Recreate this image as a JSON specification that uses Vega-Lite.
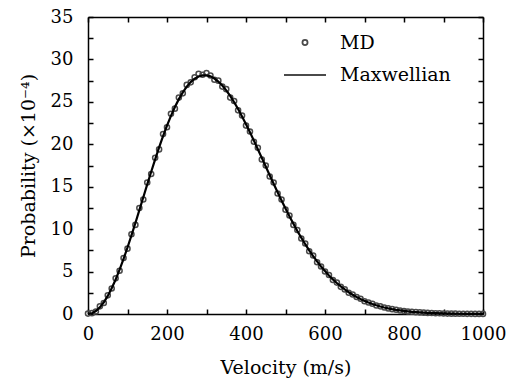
{
  "$schema": "https://vega.github.io/schema/vega-lite/v6.json",
  "width": 395,
  "height": 297,
  "autosize": {"type": "none"},
  "padding": {"left": 88, "top": 17, "right": 23, "bottom": 64},
  "background": "white",
  "config": {
    "font": "DejaVu Serif",
    "view": {"stroke": null},
    "axis": {
      "domainColor": "black",
      "domainWidth": 1.5,
      "tickColor": "black",
      "tickWidth": 1.5,
      "tickSize": -5,
      "grid": false,
      "labelFlush": false,
      "labelFont": "DejaVu Serif",
      "labelFontSize": 18,
      "labelColor": "black",
      "titleFont": "DejaVu Serif",
      "titleFontSize": 19,
      "titleFontWeight": "normal",
      "titleColor": "black"
    }
  },
  "datasets": {
    "md": [
      {"v":0,"p":0.05,"s":"MD"},{"v":10,"p":0.1,"s":"MD"},{"v":20,"p":0.3,"s":"MD"},{"v":30,"p":0.9,"s":"MD"},{"v":40,"p":1.3,"s":"MD"},
      {"v":50,"p":2.2,"s":"MD"},{"v":60,"p":3.0,"s":"MD"},{"v":70,"p":4.2,"s":"MD"},{"v":80,"p":5.1,"s":"MD"},{"v":90,"p":6.6,"s":"MD"},
      {"v":100,"p":7.7,"s":"MD"},{"v":110,"p":9.4,"s":"MD"},{"v":120,"p":10.5,"s":"MD"},{"v":130,"p":12.5,"s":"MD"},{"v":140,"p":13.5,"s":"MD"},
      {"v":150,"p":15.5,"s":"MD"},{"v":160,"p":16.5,"s":"MD"},{"v":170,"p":18.4,"s":"MD"},{"v":180,"p":19.4,"s":"MD"},{"v":190,"p":21.2,"s":"MD"},
      {"v":200,"p":22.0,"s":"MD"},{"v":210,"p":23.6,"s":"MD"},{"v":220,"p":24.2,"s":"MD"},{"v":230,"p":25.5,"s":"MD"},{"v":240,"p":26.0,"s":"MD"},
      {"v":250,"p":27.0,"s":"MD"},{"v":260,"p":27.3,"s":"MD"},{"v":270,"p":27.9,"s":"MD"},{"v":280,"p":28.3,"s":"MD"},{"v":290,"p":28.2,"s":"MD"},
      {"v":300,"p":28.4,"s":"MD"},{"v":310,"p":28.1,"s":"MD"},{"v":320,"p":27.6,"s":"MD"},{"v":330,"p":27.5,"s":"MD"},{"v":340,"p":26.8,"s":"MD"},
      {"v":350,"p":26.5,"s":"MD"},{"v":360,"p":25.5,"s":"MD"},{"v":370,"p":25.1,"s":"MD"},{"v":380,"p":24.0,"s":"MD"},{"v":390,"p":23.4,"s":"MD"},
      {"v":400,"p":22.2,"s":"MD"},{"v":410,"p":21.5,"s":"MD"},{"v":420,"p":20.3,"s":"MD"},{"v":430,"p":19.6,"s":"MD"},{"v":440,"p":18.2,"s":"MD"},
      {"v":450,"p":17.5,"s":"MD"},{"v":460,"p":16.2,"s":"MD"},{"v":470,"p":15.5,"s":"MD"},{"v":480,"p":14.2,"s":"MD"},{"v":490,"p":13.5,"s":"MD"},
      {"v":500,"p":12.3,"s":"MD"},{"v":510,"p":11.6,"s":"MD"},{"v":520,"p":10.5,"s":"MD"},{"v":530,"p":9.9,"s":"MD"},{"v":540,"p":8.9,"s":"MD"},
      {"v":550,"p":8.3,"s":"MD"},{"v":560,"p":7.4,"s":"MD"},{"v":570,"p":6.9,"s":"MD"},{"v":580,"p":6.1,"s":"MD"},{"v":590,"p":5.6,"s":"MD"},
      {"v":600,"p":5.0,"s":"MD"},{"v":610,"p":4.6,"s":"MD"},{"v":620,"p":4.0,"s":"MD"},{"v":630,"p":3.7,"s":"MD"},{"v":640,"p":3.2,"s":"MD"},
      {"v":650,"p":2.9,"s":"MD"},{"v":660,"p":2.5,"s":"MD"},{"v":670,"p":2.3,"s":"MD"},{"v":680,"p":2.0,"s":"MD"},{"v":690,"p":1.8,"s":"MD"},
      {"v":700,"p":1.5,"s":"MD"},{"v":710,"p":1.35,"s":"MD"},{"v":720,"p":1.2,"s":"MD"},{"v":730,"p":1.0,"s":"MD"},{"v":740,"p":0.9,"s":"MD"},
      {"v":750,"p":0.77,"s":"MD"},{"v":760,"p":0.66,"s":"MD"},{"v":770,"p":0.57,"s":"MD"},{"v":780,"p":0.5,"s":"MD"},{"v":790,"p":0.42,"s":"MD"},
      {"v":800,"p":0.36,"s":"MD"},{"v":810,"p":0.3,"s":"MD"},{"v":820,"p":0.26,"s":"MD"},{"v":830,"p":0.22,"s":"MD"},{"v":840,"p":0.19,"s":"MD"},
      {"v":850,"p":0.16,"s":"MD"},{"v":860,"p":0.13,"s":"MD"},{"v":870,"p":0.11,"s":"MD"},{"v":880,"p":0.09,"s":"MD"},{"v":890,"p":0.08,"s":"MD"},
      {"v":900,"p":0.06,"s":"MD"},{"v":910,"p":0.05,"s":"MD"},{"v":920,"p":0.04,"s":"MD"},{"v":930,"p":0.04,"s":"MD"},{"v":940,"p":0.03,"s":"MD"},
      {"v":950,"p":0.03,"s":"MD"},{"v":960,"p":0.02,"s":"MD"},{"v":970,"p":0.02,"s":"MD"},{"v":980,"p":0.01,"s":"MD"},{"v":990,"p":0.01,"s":"MD"},
      {"v":1000,"p":0.01,"s":"MD"}
    ],
    "mx": [
      {"v":0,"p":0,"s":"Maxwellian"},{"v":10,"p":0.088,"s":"Maxwellian"},{"v":20,"p":0.35,"s":"Maxwellian"},{"v":30,"p":0.783,"s":"Maxwellian"},{"v":40,"p":1.381,"s":"Maxwellian"},
      {"v":50,"p":2.135,"s":"Maxwellian"},{"v":60,"p":3.036,"s":"Maxwellian"},{"v":70,"p":4.072,"s":"Maxwellian"},{"v":80,"p":5.227,"s":"Maxwellian"},{"v":90,"p":6.488,"s":"Maxwellian"},
      {"v":100,"p":7.837,"s":"Maxwellian"},{"v":110,"p":9.256,"s":"Maxwellian"},{"v":120,"p":10.728,"s":"Maxwellian"},{"v":130,"p":12.234,"s":"Maxwellian"},{"v":140,"p":13.755,"s":"Maxwellian"},
      {"v":150,"p":15.273,"s":"Maxwellian"},{"v":160,"p":16.768,"s":"Maxwellian"},{"v":170,"p":18.226,"s":"Maxwellian"},{"v":180,"p":19.628,"s":"Maxwellian"},{"v":190,"p":20.96,"s":"Maxwellian"},
      {"v":200,"p":22.206,"s":"Maxwellian"},{"v":210,"p":23.355,"s":"Maxwellian"},{"v":220,"p":24.397,"s":"Maxwellian"},{"v":230,"p":25.321,"s":"Maxwellian"},{"v":240,"p":26.121,"s":"Maxwellian"},
      {"v":250,"p":26.792,"s":"Maxwellian"},{"v":260,"p":27.33,"s":"Maxwellian"},{"v":270,"p":27.729,"s":"Maxwellian"},{"v":280,"p":27.997,"s":"Maxwellian"},{"v":290,"p":28.126,"s":"Maxwellian"},
      {"v":300,"p":28.127,"s":"Maxwellian"},{"v":310,"p":28.001,"s":"Maxwellian"},{"v":320,"p":27.751,"s":"Maxwellian"},{"v":330,"p":27.39,"s":"Maxwellian"},{"v":340,"p":26.922,"s":"Maxwellian"},
      {"v":350,"p":26.353,"s":"Maxwellian"},{"v":360,"p":25.695,"s":"Maxwellian"},{"v":370,"p":24.957,"s":"Maxwellian"},{"v":380,"p":24.15,"s":"Maxwellian"},{"v":390,"p":23.283,"s":"Maxwellian"},
      {"v":400,"p":22.371,"s":"Maxwellian"},{"v":410,"p":21.414,"s":"Maxwellian"},{"v":420,"p":20.431,"s":"Maxwellian"},{"v":430,"p":19.419,"s":"Maxwellian"},{"v":440,"p":18.398,"s":"Maxwellian"},
      {"v":450,"p":17.374,"s":"Maxwellian"},{"v":460,"p":16.353,"s":"Maxwellian"},{"v":470,"p":15.341,"s":"Maxwellian"},{"v":480,"p":14.346,"s":"Maxwellian"},{"v":490,"p":13.369,"s":"Maxwellian"},
      {"v":500,"p":12.426,"s":"Maxwellian"},{"v":510,"p":11.508,"s":"Maxwellian"},{"v":520,"p":10.632,"s":"Maxwellian"},{"v":530,"p":9.786,"s":"Maxwellian"},{"v":540,"p":8.987,"s":"Maxwellian"},
      {"v":550,"p":8.225,"s":"Maxwellian"},{"v":560,"p":7.504,"s":"Maxwellian"},{"v":570,"p":6.829,"s":"Maxwellian"},{"v":580,"p":6.195,"s":"Maxwellian"},{"v":590,"p":5.605,"s":"Maxwellian"},
      {"v":600,"p":5.054,"s":"Maxwellian"},{"v":610,"p":4.547,"s":"Maxwellian"},{"v":620,"p":4.077,"s":"Maxwellian"},{"v":630,"p":3.648,"s":"Maxwellian"},{"v":640,"p":3.252,"s":"Maxwellian"},
      {"v":650,"p":2.894,"s":"Maxwellian"},{"v":660,"p":2.566,"s":"Maxwellian"},{"v":670,"p":2.27,"s":"Maxwellian"},{"v":680,"p":2.002,"s":"Maxwellian"},{"v":690,"p":1.761,"s":"Maxwellian"},
      {"v":700,"p":1.545,"s":"Maxwellian"},{"v":710,"p":1.352,"s":"Maxwellian"},{"v":720,"p":1.179,"s":"Maxwellian"},{"v":730,"p":1.026,"s":"Maxwellian"},{"v":740,"p":0.89,"s":"Maxwellian"},
      {"v":750,"p":0.771,"s":"Maxwellian"},{"v":760,"p":0.666,"s":"Maxwellian"},{"v":770,"p":0.573,"s":"Maxwellian"},{"v":780,"p":0.492,"s":"Maxwellian"},{"v":790,"p":0.422,"s":"Maxwellian"},
      {"v":800,"p":0.36,"s":"Maxwellian"},{"v":820,"p":0.261,"s":"Maxwellian"},{"v":840,"p":0.187,"s":"Maxwellian"},{"v":860,"p":0.132,"s":"Maxwellian"},{"v":880,"p":0.092,"s":"Maxwellian"},
      {"v":900,"p":0.063,"s":"Maxwellian"},{"v":920,"p":0.043,"s":"Maxwellian"},{"v":940,"p":0.029,"s":"Maxwellian"},{"v":960,"p":0.019,"s":"Maxwellian"},{"v":980,"p":0.013,"s":"Maxwellian"},
      {"v":1000,"p":0.008,"s":"Maxwellian"}
    ]
  },
  "layer": [
    {
      "data": {"name": "md"},
      "mark": {"type": "point", "filled": false, "stroke": "#4a4a4a", "strokeWidth": 1.5, "opacity": 1},
      "encoding": {
        "x": {"field": "v", "type": "quantitative", "scale": {"domain": [0, 1000], "nice": false},
          "axis": {"title": "Velocity (m/s)", "format": "d", "values": [0,100,200,300,400,500,600,700,800,900,1000],
            "labelExpr": "datum.value % 200 == 0 ? datum.label : ''", "labelPadding": 16, "titlePadding": 15}},
        "y": {"field": "p", "type": "quantitative", "scale": {"domain": [0, 35], "nice": false},
          "axis": {"title": "Probability (×10⁻⁴)", "values": [0,2.5,5,7.5,10,12.5,15,17.5,20,22.5,25,27.5,30,32.5,35],
            "labelExpr": "datum.value % 5 == 0 ? datum.label : ''", "labelPadding": 20, "titlePadding": 12}},
        "shape": {"field": "s", "type": "nominal",
          "scale": {"domain": ["MD", "Maxwellian"], "range": ["circle", "stroke"]},
          "legend": {"title": null, "orient": "none", "legendX": 195, "legendY": 16,
            "labelFont": "DejaVu Serif", "labelFontSize": 19, "labelColor": "black", "labelOffset": 13,
            "symbolStrokeColor": "black", "symbolFillColor": "transparent", "symbolStrokeWidth": 1.8,
            "symbolOpacity": 1, "rowPadding": 0}},
        "size": {"field": "s", "type": "nominal",
          "scale": {"domain": ["MD", "Maxwellian"], "range": [26, 1764]},
          "legend": {"title": null}}
      }
    },
    {
      "data": {"name": "mx"},
      "mark": {"type": "line", "color": "black", "strokeWidth": 2.2},
      "encoding": {
        "x": {"field": "v", "type": "quantitative",
          "axis": {"orient": "top", "labels": false, "title": null, "values": [0,100,200,300,400,500,600,700,800,900,1000]}},
        "y": {"field": "p", "type": "quantitative",
          "axis": {"orient": "right", "labels": false, "title": null, "values": [0,2.5,5,7.5,10,12.5,15,17.5,20,22.5,25,27.5,30,32.5,35]}}
      }
    }
  ],
  "resolve": {"axis": {"x": "independent", "y": "independent"}}
}
